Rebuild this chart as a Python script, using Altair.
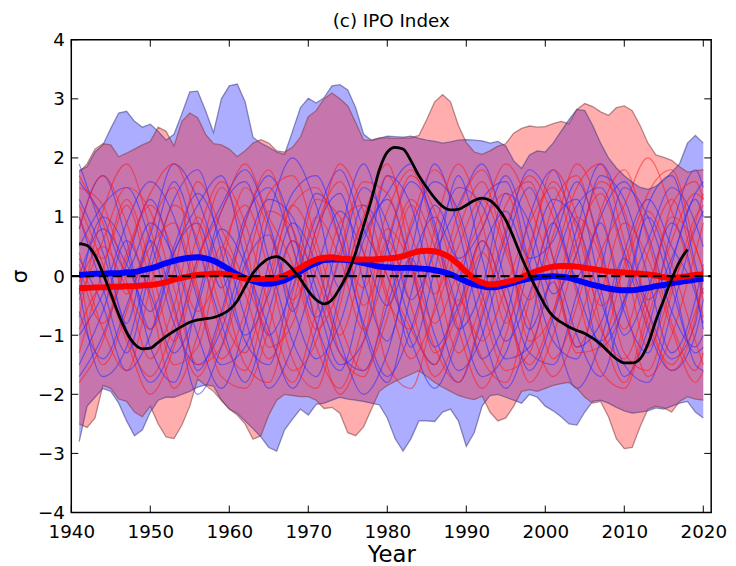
import altair as alt
import pandas as pd

# ---------------- data ----------------
YEARS = list(range(1941, 2021))

BLUE_MAX = [1.79, 1.85, 2.10, 2.22, 2.50, 2.76, 2.79, 2.62, 2.52, 2.57,
            2.45, 2.30, 2.40, 2.75, 3.12, 3.13, 2.80, 2.43, 3.00, 3.22,
            3.25, 2.95, 2.35, 2.25, 2.18, 2.10, 2.06, 2.45, 2.85, 3.01,
            2.93, 3.02, 3.22, 3.24, 3.15, 2.85, 2.40, 2.30, 2.33, 2.37,
            2.36, 2.35, 2.37, 2.33, 2.30, 2.28, 2.25, 2.27, 2.30, 2.31,
            2.30, 2.29, 2.25, 2.28, 2.20, 1.95, 1.82, 2.05, 2.12, 2.10,
            2.25, 2.45, 2.65, 2.82, 2.80, 2.55, 2.25, 2.00, 1.83, 1.70,
            1.59, 1.50, 1.47, 1.52, 1.62, 1.76, 1.90, 2.25, 2.38, 2.25]
BLUE_MIN = [-2.80, -2.20, -2.05, -1.90, -1.95, -2.15, -2.45, -2.70, -2.60, -2.30,
            -2.10, -2.05, -2.05, -2.00, -1.95, -1.88, -1.84, -1.86, -2.10, -2.25,
            -2.32, -2.45, -2.58, -2.72, -2.90, -2.96, -2.60, -2.42, -2.25, -2.35,
            -2.17, -2.15, -2.10, -2.05, -2.08, -2.10, -2.12, -2.15, -2.18, -2.40,
            -2.75, -2.96, -2.75, -2.45, -2.45, -2.46, -2.30, -2.25, -2.45, -2.88,
            -2.65, -2.20, -2.02, -2.00, -2.05, -2.10, -2.15, -2.00, -2.05, -2.20,
            -2.28, -2.38, -2.50, -2.52, -2.30, -2.12, -2.10, -2.15, -2.22, -2.28,
            -2.32, -2.30, -2.28, -2.23, -2.25, -2.20, -2.15, -2.12, -2.30, -2.40]
RED_MAX = [1.76, 1.90, 2.15, 2.24, 2.22, 2.02, 2.08, 2.15, 2.22, 2.28,
           2.52, 2.45, 2.20, 2.62, 2.76, 2.68, 2.40, 2.24, 2.22, 2.15,
           2.02, 2.12, 2.25, 2.31, 2.25, 2.12, 2.10, 2.18, 2.35, 2.70,
           2.80, 3.00, 3.10, 3.00, 2.88, 2.60, 2.30, 2.30, 2.34, 2.34,
           2.33, 2.33, 2.34, 2.38, 2.65, 2.95, 3.07, 2.95, 2.55, 2.26,
           2.10, 2.06, 2.12, 2.20, 2.24, 2.42, 2.50, 2.54, 2.52, 2.53,
           2.58, 2.62, 2.58, 2.82, 2.92, 2.87, 2.78, 2.72, 2.85, 2.88,
           2.80, 2.55, 2.25, 2.05, 2.01, 1.96, 1.85, 1.76, 1.78, 1.80]
RED_MIN = [-2.50, -2.56, -2.40, -1.85, -1.90, -2.08, -2.12, -2.30, -2.38, -2.20,
           -2.50, -2.72, -2.75, -2.52, -2.20, -1.74, -1.85, -1.95, -2.10, -2.25,
           -2.35, -2.50, -2.76, -2.70, -2.35, -2.10, -2.00, -2.02, -2.04, -2.04,
           -2.10, -2.24, -2.22, -2.32, -2.65, -2.70, -2.55, -2.25, -1.95, -1.85,
           -1.78, -1.72, -1.66, -1.60, -1.70, -1.80, -1.88, -1.95, -2.02, -2.06,
           -2.09, -2.03, -2.30, -2.45, -2.40, -2.20, -1.95, -1.92, -1.95, -1.90,
           -1.85, -1.82, -1.80, -1.90, -2.05, -2.15, -2.12, -2.38, -2.75, -2.92,
           -2.90, -2.55, -2.25, -2.20, -2.23, -2.30, -2.12, -2.04, -2.08, -2.10]

BLUE_MEAN = [0.02, 0.03, 0.04, 0.04, 0.05, 0.05, 0.06, 0.07, 0.10, 0.13,
             0.17, 0.22, 0.26, 0.29, 0.31, 0.32, 0.30, 0.26, 0.19, 0.11,
             0.03, -0.03, -0.08, -0.12, -0.13, -0.11, -0.07, 0.00, 0.08, 0.16,
             0.22, 0.27, 0.28, 0.28, 0.27, 0.25, 0.22, 0.19, 0.16, 0.15,
             0.14, 0.14, 0.14, 0.13, 0.12, 0.10, 0.07, 0.03, -0.03, -0.09,
             -0.14, -0.17, -0.19, -0.18, -0.15, -0.11, -0.07, -0.04, -0.02, -0.01,
             0.00, -0.01, -0.03, -0.07, -0.11, -0.15, -0.18, -0.21, -0.23, -0.24,
             -0.24, -0.22, -0.20, -0.17, -0.15, -0.12, -0.10, -0.08, -0.06, -0.04]
RED_MEAN = [-0.20, -0.20, -0.19, -0.19, -0.18, -0.18, -0.17, -0.17, -0.16, -0.15,
            -0.13, -0.10, -0.06, -0.03, 0.00, 0.02, 0.03, 0.04, 0.04, 0.02,
            -0.01, -0.04, -0.05, -0.05, -0.04, -0.03, 0.01, 0.07, 0.14, 0.22,
            0.28, 0.31, 0.32, 0.30, 0.29, 0.28, 0.28, 0.28, 0.29, 0.30,
            0.31, 0.34, 0.38, 0.42, 0.43, 0.42, 0.38, 0.31, 0.20, 0.07,
            -0.04, -0.11, -0.14, -0.13, -0.10, -0.07, -0.02, 0.04, 0.09, 0.13,
            0.16, 0.17, 0.17, 0.16, 0.14, 0.12, 0.10, 0.08, 0.07, 0.06,
            0.05, 0.04, 0.03, 0.01, -0.02, -0.03, -0.02, 0.00, 0.02, 0.03]

OBS_YEARS = list(range(1941, 2019))
OBS = [0.55, 0.52, 0.35, 0.05, -0.30, -0.65, -0.95, -1.15, -1.23, -1.22,
       -1.12, -1.02, -0.93, -0.85, -0.78, -0.74, -0.72, -0.70, -0.65, -0.57,
       -0.42, -0.18, 0.05, 0.20, 0.30, 0.33, 0.26, 0.12, -0.05, -0.25,
       -0.40, -0.47, -0.40, -0.20, 0.05, 0.40, 0.85, 1.30, 1.80, 2.10,
       2.18, 2.15, 1.95, 1.70, 1.50, 1.32, 1.18, 1.12, 1.13, 1.20,
       1.28, 1.32, 1.28, 1.15, 0.95, 0.65, 0.32, 0.02, -0.25, -0.50,
       -0.68, -0.78, -0.86, -0.92, -0.97, -1.05, -1.15, -1.28, -1.40, -1.47,
       -1.47, -1.40, -1.15, -0.75, -0.40, -0.05, 0.25, 0.45]

# individual ensemble members (hand-read, sampled every 3 years)
MEMBER_YEARS = [1941, 1944, 1947, 1950, 1953, 1956, 1959, 1962, 1965, 1968,
                1971, 1974, 1977, 1980, 1983, 1986, 1989, 1992, 1995, 1998,
                2001, 2004, 2007, 2010, 2013, 2016, 2019, 2020]
BLUE_MEMBERS = [
    [0.5, 1.2, 1.5, 0.6, -0.8, -1.5, -0.9, 0.4, 1.3, 1.0, -0.2, -1.3, -1.6, -0.5, 0.8, 1.6, 1.1, -0.3, -1.4, -1.2, 0.1, 1.2, 1.5, 0.4, -0.9, -1.6, -1.0, -0.4],
    [-1.0, -0.3, 0.9, 1.6, 1.0, -0.4, -1.5, -1.2, 0.2, 1.4, 1.7, 0.6, -0.8, -1.7, -0.9, 0.5, 1.5, 1.2, -0.1, -1.3, -1.5, -0.3, 1.0, 1.6, 0.7, -0.6, -1.2, -1.0],
    [1.3, 0.4, -0.9, -1.8, -1.1, 0.3, 1.2, 1.8, 0.9, -0.5, -1.4, -0.8, 0.6, 1.4, 1.9, 0.8, -0.6, -1.7, -1.3, 0.2, 1.3, 0.9, -0.4, -1.5, -1.8, -0.6, 0.8, 1.1],
    [0.0, 0.8, 0.2, -0.6, 0.5, 1.4, 0.6, -0.7, -1.9, -1.2, 0.1, 1.1, 0.4, -0.5, 0.3, -1.0, -1.8, -0.7, 0.7, 1.8, 1.2, -0.2, -1.1, -0.4, 0.6, 1.5, 0.9, 0.5],
    [-0.6, -1.4, -0.5, 0.7, 1.9, 1.3, 0.1, -1.0, -0.3, 0.9, 0.2, -1.1, -2.0, -1.3, 0.2, 1.0, 0.3, 0.8, 1.7, 0.6, -0.8, -1.9, -1.1, 0.4, 1.3, 0.5, -0.3, -0.8],
    [1.6, 1.0, 0.1, 0.9, 0.3, -1.0, -1.9, -0.8, 1.0, 2.0, 1.2, -0.2, 0.7, 1.3, 0.2, -1.2, -0.5, 0.6, -0.4, -1.6, -0.7, 0.8, 1.9, 1.0, -0.4, 0.3, 1.4, 1.6],
    [-1.5, -0.6, 0.6, -0.3, -1.3, -0.5, 0.8, 0.2, -1.0, -0.2, 1.0, 1.8, 0.8, 0.0, -1.1, -1.9, -1.0, 0.4, 1.1, 0.3, 0.6, 1.6, 0.5, -1.0, -0.2, 0.9, -0.2, -0.9],
    [0.3, -0.5, -1.6, -1.0, 0.4, 0.9, -0.2, 1.0, 1.5, 0.5, -0.7, 0.3, 1.5, 0.9, -0.4, 0.4, 1.2, 1.9, 0.7, -0.9, -0.1, -1.2, -0.8, 0.3, -0.6, -1.4, -0.8, 0.1],
    [-0.3, 1.0, 0.4, -1.2, -1.8, -0.4, 1.1, 1.6, 0.3, -1.1, -1.7, -0.3, 1.2, 0.5, -0.8, -1.5, -0.2, 1.3, 1.6, 0.2, -1.1, -1.4, 0.1, 1.5, 1.0, -0.2, -1.3, -1.2],
    [1.0, -0.2, -1.3, 0.1, 1.3, 1.8, 0.4, -1.1, -1.5, 0.0, 1.4, 0.8, -0.9, -1.8, -0.3, 1.2, 0.2, -1.4, -0.7, 1.0, 1.8, 0.5, -1.2, -0.5, 1.2, 1.7, 0.2, -0.3],
    [-1.7, -1.0, 0.2, 1.3, 0.2, -1.6, -0.6, 0.9, 1.7, 0.8, -0.8, -1.6, -0.2, 1.7, 1.2, -0.4, -1.6, -1.0, 0.5, 1.5, 0.3, -1.0, -1.7, -0.4, 1.0, 0.0, -1.5, -1.6],
    [0.8, 1.7, 0.6, -0.9, 0.4, 1.2, 1.7, 0.3, -0.9, -1.9, -0.9, 0.7, 1.9, 0.5, -1.2, 0.1, 1.7, 0.3, -1.1, -0.3, 0.9, 0.0, 0.9, -0.6, -1.3, 0.2, 1.3, 1.0],
    [-0.2, -1.7, -1.2, 0.3, 1.6, 0.5, -0.8, -1.8, -0.6, 0.6, -0.4, -1.5, -1.1, 0.5, 1.6, 0.9, -0.9, -0.2, 1.4, 0.9, -0.3, 0.4, 1.7, 1.3, 0.0, -1.3, -0.4, 0.2],
    [1.9, 0.7, -0.8, 0.6, -0.5, -2.0, -1.2, 0.2, 0.7, -0.6, 0.8, 1.4, -0.1, -1.1, 0.4, 1.9, 0.8, -0.9, -1.9, -0.9, 0.9, 1.3, -0.2, -1.7, -0.9, 0.8, 1.8, 1.5],
]
RED_MEMBERS = [
    [-0.4, 0.6, 1.5, 1.1, -0.2, -1.5, -1.2, 0.1, 1.4, 1.7, 0.6, -0.8, -1.6, -0.7, 0.9, 1.8, 1.0, -0.5, -1.6, -1.3, 0.2, 1.5, 1.9, 0.6, -0.8, -1.5, -0.6, -0.2],
    [1.2, 0.2, -1.0, -1.7, -0.8, 0.7, 1.6, 0.9, -0.5, -1.6, -1.1, 0.4, 1.6, 1.4, 0.1, -1.2, -1.8, -0.6, 0.8, 1.7, 1.0, -0.3, -1.6, -1.9, -0.7, 0.6, 1.4, 1.3],
    [-1.8, -1.1, 0.3, 1.2, 0.4, -0.6, 0.2, 1.5, 0.8, -0.4, 0.6, 1.9, 1.1, -0.3, -1.4, -0.6, 0.5, 1.3, 0.4, -0.8, -1.7, -0.9, 0.4, 1.2, 2.0, 1.1, -0.2, -0.7],
    [0.8, 1.7, 0.9, -0.4, -1.9, -1.0, 0.5, -0.3, -1.4, -0.5, 1.0, 0.3, -0.9, 0.2, 1.3, 0.5, -0.9, -1.9, -1.0, 0.5, 1.6, 0.8, -0.5, 0.1, 1.1, 0.2, -1.1, -1.5],
    [-0.9, -0.2, -1.1, -2.0, -1.2, 0.3, 1.1, 1.9, 1.0, 0.2, -1.2, -1.9, -0.8, 0.8, 0.2, -0.8, 0.1, 1.0, 1.9, 1.2, 0.0, -1.2, -0.3, 0.9, 0.3, -0.9, -1.8, -1.6],
    [0.2, -0.8, 0.4, 1.4, 1.9, 0.9, -0.6, -1.3, 0.0, 1.2, 1.5, 0.6, -0.2, 1.1, 1.8, 0.7, -0.5, 0.4, -0.6, -1.5, -0.6, 0.6, 1.4, 0.3, -1.2, -0.2, 0.9, 1.4],
    [1.7, 0.9, -0.3, 0.5, 0.9, -0.3, -1.7, -1.9, -0.9, 0.6, 0.0, -1.0, 0.3, 1.7, 0.7, -0.3, 0.8, 1.6, 0.5, -0.4, 0.7, 1.9, 1.1, -0.4, -1.7, -1.0, 0.4, 0.9],
    [-0.1, 0.5, -0.2, -0.9, 0.1, 1.6, 0.8, -0.1, -1.0, -1.8, -0.6, 0.9, 1.2, 0.0, -0.9, -1.5, -0.4, -1.1, -0.2, 0.9, 1.5, 0.3, -0.9, -1.4, -0.3, 1.0, 0.5, 0.1],
    [0.4, -0.9, -1.6, -0.2, 1.2, 0.6, -1.0, -1.6, -0.2, 1.2, 0.4, -1.3, -1.7, -0.3, 1.2, 0.1, -1.3, -0.4, 1.2, 1.6, 0.3, -1.3, -1.2, 0.2, 1.4, 1.8, 0.5, 0.1],
    [-1.3, 0.1, 1.3, 0.2, -1.1, 0.2, 1.5, 0.6, -1.2, -0.8, 0.8, 1.6, 0.4, -1.5, -1.9, -0.5, 1.1, 1.8, 0.7, -1.1, -0.6, 1.0, 0.3, -1.3, -1.6, -0.3, 1.0, 1.2],
    [1.5, 1.2, -0.1, -1.4, -0.5, 1.0, -0.1, -1.5, -1.8, -0.3, 1.3, 1.0, -0.5, 0.6, 1.7, 1.1, -0.2, -1.4, -1.8, -0.4, 1.2, 1.7, 0.4, -0.9, 0.4, 1.3, 0.1, -0.4],
    [-0.7, 1.1, 1.9, 0.8, -0.6, -1.7, -0.7, 0.9, 1.8, 0.5, -0.9, -0.2, 1.0, 1.9, 0.3, -1.3, -0.6, 0.8, 1.4, 0.1, -1.4, -0.5, 1.1, 1.8, 0.6, -0.8, -1.6, -1.3],
    [0.1, -1.5, -0.6, 0.8, 1.5, -0.2, -1.4, -0.6, 1.1, 0.8, -0.8, -2.0, -1.1, 0.6, -0.5, -1.7, -0.9, 0.6, -0.4, -1.8, -1.0, 0.4, 1.6, 1.1, -0.6, -1.6, -0.7, 0.0],
    [1.0, 0.3, 1.2, -0.1, -1.5, -1.2, 0.4, 1.2, 0.1, -1.4, -1.9, -0.5, 0.9, -0.4, -0.9, 0.8, 1.9, 0.9, -0.8, 0.4, 1.8, 1.0, -0.8, -1.8, -0.5, 1.2, 1.6, 1.3],
]

X_TICKS = [1940, 1950, 1960, 1970, 1980, 1990, 2000, 2010, 2020]
Y_TICKS = [-4, -3, -2, -1, 0, 1, 2, 3, 4]
ZERO_LINE_X = [1940, 2021]

# ---------------- tables ----------------
W, H = 647, 478
env = pd.DataFrame({"year": YEARS, "bmax": BLUE_MAX, "bmin": BLUE_MIN,
                    "rmax": RED_MAX, "rmin": RED_MIN,
                    "bmean": BLUE_MEAN, "rmean": RED_MEAN})
obs = pd.DataFrame({"year": OBS_YEARS, "v": OBS})


def members(arrs, tag):
    rows = []
    for i, a in enumerate(arrs):
        for y, v in zip(MEMBER_YEARS, a):
            rows.append({"year": y, "v": v, "m": f"{tag}{i}"})
    return pd.DataFrame(rows)


bmem = members(BLUE_MEMBERS, "b")
rmem = members(RED_MEMBERS, "r")
xt = pd.DataFrame({"year": X_TICKS})
yt = pd.DataFrame({"v": Y_TICKS})
zl = pd.DataFrame({"year": ZERO_LINE_X, "v": [0, 0]})

FONT = "DejaVu Sans"
xs = alt.Scale(domain=[1940, 2021], nice=False, zero=False)
ys = alt.Scale(domain=[-4, 4], nice=False, zero=False)
x_axis = alt.Axis(values=X_TICKS, format="d", title="Year", ticks=False, tickSize=0,
                  domain=False, grid=False, labelFont=FONT, labelFontSize=18.5,
                  labelColor="black", labelPadding=10, labelFlush=False,
                  labelOverlap=False, titleFont=FONT,
                  titleFontSize=23, titleFontWeight="normal", titleColor="black",
                  titlePadding=3)
y_axis = alt.Axis(values=Y_TICKS, title="σ", ticks=False, tickSize=0, domain=False,
                  grid=False, labelFont=FONT, labelFontSize=18.5, labelColor="black",
                  labelPadding=7, labelFlush=False, labelOverlap=False,
                  titleFont=FONT, titleFontSize=22,
                  titleFontWeight="normal", titleColor="black", titlePadding=6)


def X(f="year"):
    return alt.X(f"{f}:Q", scale=xs, axis=x_axis)


def Y(f):
    return alt.Y(f"{f}:Q", scale=ys, axis=y_axis)


blue_env = alt.Chart(env).mark_area(color="#0000ff", opacity=0.32).encode(
    x=X(), y=Y("bmax"), y2="bmin")
red_env = alt.Chart(env).mark_area(color="#ff0000", opacity=0.32).encode(
    x=X(), y=Y("rmax"), y2="rmin")

blue_lines = alt.Chart(bmem).mark_line(color="#2a2aff", strokeWidth=1.2, opacity=0.55,
                                       interpolate="monotone").encode(
    x=X(), y=Y("v"), detail="m:N")
red_lines = alt.Chart(rmem).mark_line(color="#ff1a1a", strokeWidth=1.2, opacity=0.55,
                                      interpolate="monotone").encode(
    x=X(), y=Y("v"), detail="m:N")

edge_style = dict(strokeWidth=1.3, opacity=0.55)
bedge_hi = alt.Chart(env).mark_line(color="#3a3a80", **edge_style).encode(x=X(), y=Y("bmax"))
bedge_lo = alt.Chart(env).mark_line(color="#3a3a80", **edge_style).encode(x=X(), y=Y("bmin"))
redge_hi = alt.Chart(env).mark_line(color="#803a3a", **edge_style).encode(x=X(), y=Y("rmax"))
redge_lo = alt.Chart(env).mark_line(color="#803a3a", **edge_style).encode(x=X(), y=Y("rmin"))

bmean = alt.Chart(env).mark_line(color="#0000ff", strokeWidth=6,
                                 interpolate="monotone").encode(x=X(), y=Y("bmean"))
rmean = alt.Chart(env).mark_line(color="#ff0000", strokeWidth=6,
                                 interpolate="monotone").encode(x=X(), y=Y("rmean"))
zero = alt.Chart(zl).mark_line(color="black", strokeWidth=2.5, strokeDash=[9, 5]).encode(
    x=X(), y=Y("v"))
obs_line = alt.Chart(obs).mark_line(color="black", strokeWidth=2.8,
                                    interpolate="monotone").encode(x=X(), y=Y("v"))

tick_len = 7
xt_bot = alt.Chart(xt).mark_rule(color="black", strokeWidth=1).encode(
    x=X(), y=alt.value(H), y2=alt.value(H - tick_len))
xt_top = alt.Chart(xt).mark_rule(color="black", strokeWidth=1).encode(
    x=X(), y=alt.value(0), y2=alt.value(tick_len))
yt_left = alt.Chart(yt).mark_rule(color="black", strokeWidth=1).encode(
    y=Y("v"), x=alt.value(0), x2=alt.value(tick_len))
yt_right = alt.Chart(yt).mark_rule(color="black", strokeWidth=1).encode(
    y=Y("v"), x=alt.value(W - tick_len), x2=alt.value(W))

chart = alt.layer(
    blue_env, red_env, blue_lines, red_lines,
    bedge_hi, bedge_lo, redge_hi, redge_lo,
    bmean, rmean, zero, obs_line,
    xt_bot, xt_top, yt_left, yt_right,
).properties(
    width=W, height=H,
    background="white",
    title=alt.TitleParams("(c) IPO Index", font=FONT, fontSize=18.5, fontWeight="normal",
                          color="black", offset=0),
    autosize=alt.AutoSizeParams(type="none"),
    padding={"left": 64, "top": 29, "right": 17, "bottom": 51},
).configure_view(stroke="black", strokeWidth=1.5)

chart.save("out.html", embed_options={"renderer": "svg", "actions": False})
